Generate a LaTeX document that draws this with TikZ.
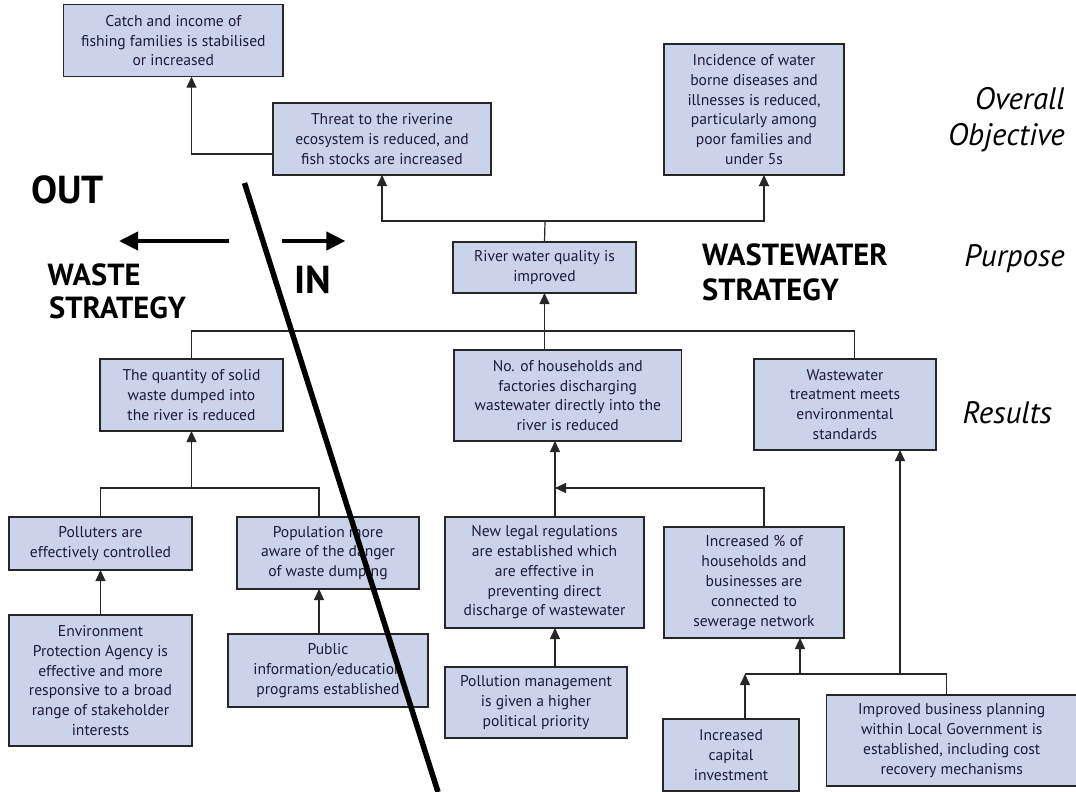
\documentclass[tikz,border=0pt]{standalone}
\usepackage{fontspec}
\setmainfont{PT Sans}
\usetikzlibrary{arrows.meta}
\definecolor{boxfill}{RGB}{203,211,234}
\definecolor{boxtext}{RGB}{30,26,56}
\newcommand\mkbox[6]{\node[box, minimum width=#4pt-#2pt, minimum height=#5pt-#3pt] (#1) at (#2,#3) {#6};}
\begin{document}
\begin{tikzpicture}[x=1pt,y=-1pt,
  box/.style={draw=black!85, line width=1.4pt, fill=boxfill, anchor=north west, align=center,
    font=\fontsize{15.6}{19.8}\selectfont, text=boxtext, inner sep=1pt, outer sep=0pt},
  link/.style={line width=1.2pt, draw=black!85},
  arr/.style={link, -{Triangle[length=11pt,width=10pt]}},
  bigarr/.style={line width=4pt, -{Triangle[length=19pt,width=18pt]}},
  head/.style={font=\fontsize{30.5}{34}\selectfont\bfseries, anchor=base west, inner sep=0pt},
  bighead/.style={font=\fontsize{39}{42}\selectfont\bfseries, anchor=base west, inner sep=0pt},
  level/.style={font=\fontsize{31}{34}\selectfont\itshape, anchor=base east, inner sep=0pt},
]
\useasboundingbox (0,0) rectangle (1076,792);
\fill[white] (0,0) rectangle (1076,792);

% boxes
\mkbox{catch}{63.7}{4.7}{283}{76.7}{Catch and income of\\fishing families is stabilised\\or increased}
\mkbox{threat}{273}{103}{491}{175}{Threat to the riverine\\ecosystem is reduced, and\\fish stocks are increased}
\mkbox{incid}{664}{44}{844}{175}{Incidence of water\\borne diseases and\\illnesses is reduced,\\particularly among\\poor families and\\under 5s}
\mkbox{river}{453}{242}{636}{293}{River water quality is\\improved}
\mkbox{quant}{100}{359}{283}{431}{The quantity of solid\\waste dumped into\\the river is reduced}
\mkbox{house}{454}{350}{681.5}{441}{No. of households and\\factories discharging\\wastewater directly into the\\river is reduced}
\mkbox{wwt}{754}{359}{936}{450}{Wastewater\\treatment meets\\environmental\\standards}
\mkbox{poll}{9}{517}{192}{570}{Polluters are\\effectively controlled}
\mkbox{popn}{237}{517}{419}{589}{Population more\\aware of the danger\\of waste dumping}
\mkbox{legal}{445}{517}{644}{628}{New legal regulations\\are established which\\are effective in\\preventing direct\\discharge of wastewater}
\mkbox{pct}{664}{527}{844}{638}{Increased \% of\\households and\\businesses are\\connected to\\sewerage network}
\mkbox{epa}{9}{615}{192}{746}{Environment\\Protection Agency is\\effective and more\\responsive to a broad\\range of stakeholder\\interests}
\mkbox{public}{228}{634}{428}{707}{Public\\information/education\\programs established}
\mkbox{pmgmt}{445}{667}{627}{738}{Pollution management\\is given a higher\\political priority}
\mkbox{capital}{663}{719}{799}{791}{Increased\\capital\\investment}
\mkbox{improved}{826.5}{695}{1077}{786}{Improved business planning\\within Local Government is\\established, including cost\\recovery mechanisms}

% labels
\node[bighead] (out) at (31,203) {OUT};
\node[head] (waste1) at (47.5,285) {WASTE};
\node[head] (waste2) at (49,318) {STRATEGY};
\node[bighead] (in) at (294,293) {IN};
\node[head] (ww1) at (702,265) {WASTEWATER};
\node[head] (ww2) at (702,300) {STRATEGY};
\node[level] (ov1) at (1065,110) {Overall};
\node[level] (ov2) at (1065,145) {Objective};
\node[level] (purp) at (1065,266) {Purpose};
\node[level] (res) at (1052,423) {Results};

% connectors
\coordinate (c1) at (191.5,154);
\draw[arr] (c1 -| threat.west) -- (c1) -- (c1 |- catch.south);

\coordinate (c2) at (545,221);
\draw[link] (river.north) -- (c2);
\draw[arr] (c2) -| (threat.south);
\draw[arr] (c2) -| ([xshift=10pt]incid.south);

\coordinate (c3) at (545,331);
\draw[link] (quant.north) |- (c3);
\draw[link] (c3) -| ([xshift=9.5pt]wwt.north);
\draw[arr] (house.north -| river.south) -- (river.south);

\coordinate (c4) at (191.5,488);
\draw[arr] (c4) -- (quant.south);
\draw[link] (poll.north) |- (c4);
\draw[link] (c4) -| ([xshift=-9pt]popn.north);
\draw[arr] (epa.north) -- (poll.south);
\draw[arr] ([xshift=-9pt]public.north) -- ([xshift=-9pt]popn.south);

\draw[arr] ([xshift=10.5pt]legal.north) -- ([xshift=10.5pt]legal.north |- house.south);
\coordinate (c5) at (555,488);
\draw[arr] ([xshift=10pt]pct.north) |- (c5);
\draw[arr] ([xshift=19pt]pmgmt.north) -- ([xshift=19pt]pmgmt.north |- legal.south);

\coordinate (c6) at (800,674);
\coordinate (c7) at (900,674);
\draw[arr] ([xshift=14pt]capital.north) -- ([xshift=14pt]capital.north |- c6);
\draw[link] ([xshift=14pt]capital.north |- c6) -| ([xshift=-5pt]improved.north);
\draw[arr] (c6) -- (c6 |- pct.south);
\draw[arr] (c7) -- (c7 |- wwt.south);

% OUT / IN arrows
\coordinate (outS) at (229,241);
\coordinate (outE) at (119,241);
\coordinate (inS) at (281.7,241);
\coordinate (inE) at (345.4,241);
\draw[bigarr] (outS) -- (outE);
\draw[bigarr] (inS) -- (inE);

% dividing line
\coordinate (d1) at (244.5,183);
\coordinate (d2) at (438,792);
\draw[line width=5.5pt] (d1) -- (d2);
\end{tikzpicture}
\end{document}
